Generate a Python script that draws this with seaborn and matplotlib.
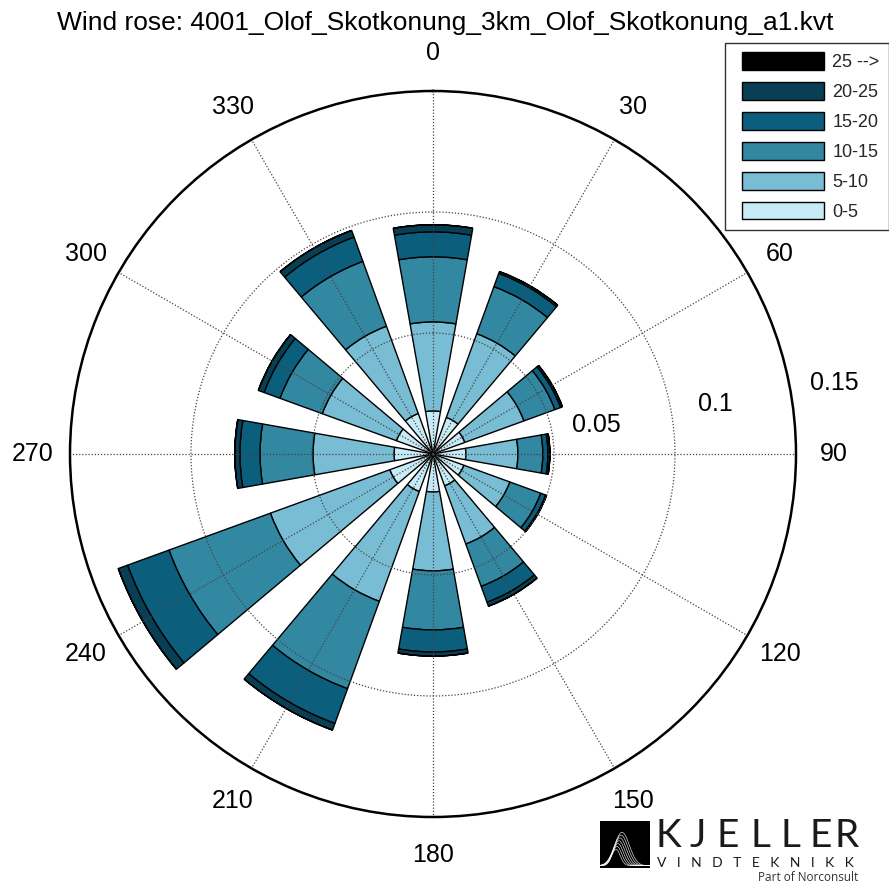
import numpy as np
import pandas as pd
import matplotlib
matplotlib.use("Agg")
import matplotlib.pyplot as plt
import seaborn as sns
from matplotlib.patches import Patch, Rectangle
from matplotlib.legend_handler import HandlerPatch

# Sector centres (degrees from north, clockwise)
directions = [0, 30, 60, 90, 120, 150, 180, 210, 240, 270, 300, 330]

# Frequency of each wind-speed class per sector (fraction of all records)
freq_0_5 = [0.0178, 0.0161, 0.0140, 0.0136, 0.0136, 0.0140, 0.0157, 0.0165, 0.0190, 0.0161, 0.0161, 0.0178]
freq_5_10 = [0.0368, 0.0368, 0.0260, 0.0215, 0.0202, 0.0256, 0.0326, 0.0483, 0.0525, 0.0335, 0.0326, 0.0384]
freq_10_15 = [0.0269, 0.0207, 0.0136, 0.0103, 0.0136, 0.0186, 0.0244, 0.0384, 0.0446, 0.0219, 0.0186, 0.0285]
freq_15_20 = [0.0103, 0.0058, 0.0025, 0.0021, 0.0021, 0.0070, 0.0091, 0.0153, 0.0182, 0.0083, 0.0070, 0.0107]
freq_20_25 = [0.0029, 0.0008, 0.0008, 0.0008, 0.0004, 0.0017, 0.0017, 0.0029, 0.0041, 0.0021, 0.0025, 0.0029]
freq_25_up = [0.0, 0.0, 0.0, 0.0, 0.0, 0.0, 0.0, 0.0, 0.0, 0.0, 0.0, 0.0]

speed_bins = ["0-5", "5-10", "10-15", "15-20", "20-25", "25 -->"]
bin_colors = ["#c6eaf6", "#78bdd4", "#3287a1", "#0b5e7c", "#083f54", "#000000"]

radial_ticks = [0.05, 0.1, 0.15]
radial_labels = ["0.05", "0.1", "0.15"]
angle_labels = ["0", "30", "60", "90", "120", "150", "180", "210", "240", "270", "300", "330"]

title = "Wind rose: 4001_Olof_Skotkonung_3km_Olof_Skotkonung_a1.kvt"

sns.set_theme(style="white")
plt.rcParams["font.family"] = ["Liberation Sans", "DejaVu Sans"]

freq_table = pd.DataFrame(
    {"direction": directions,
     "0-5": freq_0_5, "5-10": freq_5_10, "10-15": freq_10_15,
     "15-20": freq_15_20, "20-25": freq_20_25, "25 -->": freq_25_up}
)
palette = dict(zip(speed_bins, sns.color_palette(bin_colors)))

fig = plt.figure(figsize=(8.89, 8.89), dpi=100)
fig.patch.set_facecolor("white")

cx, cy, rad = 433 / 889, 1 - 454 / 889, 363 / 889
ax = fig.add_axes([cx - rad, cy - rad, 2 * rad, 2 * rad], projection="polar")
ax.set_facecolor("white")
ax.set_theta_zero_location("N")
ax.set_theta_direction(-1)

theta = np.deg2rad(freq_table["direction"].to_numpy())
width = np.deg2rad(20)
bottom = np.zeros(len(theta))
for name in speed_bins:
    vals = freq_table[name].to_numpy()
    ax.bar(theta, vals, width=width, bottom=bottom, color=palette[name],
           edgecolor="black", linewidth=1.0, align="center", zorder=1)
    bottom = bottom + vals

ax.set_ylim(0, 0.15)
ax.set_yticks(radial_ticks[:-1])
ax.set_yticklabels([])
ax.set_xticks(np.deg2rad(directions))
ax.set_xticklabels([])
ax.set_axisbelow(False)
ax.grid(True, color="#444444", linestyle=(0, (1, 1.5)), linewidth=0.9)
ax.spines["polar"].set_color("black")
ax.spines["polar"].set_linewidth(1.8)

for ang, lab in zip(directions, angle_labels):
    ax.text(np.deg2rad(ang), 0.1655, lab, ha="center", va="center",
            fontsize=18, color="black", clip_on=False)

for rv, lab in zip(radial_ticks, radial_labels):
    ax.text(np.deg2rad(80), rv + 0.0185, lab, ha="center", va="center",
            fontsize=18, color="black", clip_on=False)

fig.text(445 / 889, 1 - 23 / 889, title, ha="center", va="center", fontsize=19, color="black")


def inset_box(legend, orig_handle, xdescent, ydescent, width, height, fontsize):
    # colour box with a little white margin on its left
    gap = 0.09 * width
    return Rectangle((-xdescent + gap, -ydescent), width - gap, height)


handles = [Patch(facecolor=palette[n], edgecolor="black", linewidth=1.0) for n in speed_bins][::-1]
leg = fig.legend(handles, speed_bins[::-1], loc="upper right",
                 bbox_to_anchor=(0.9995, 1 - 43 / 889), fontsize=13,
                 handlelength=5.0, handleheight=1.15, labelspacing=0.6,
                 handletextpad=0.45, borderpad=0.5, borderaxespad=0,
                 handler_map={Patch: HandlerPatch(patch_func=inset_box)},
                 fancybox=False, frameon=True)
leg.get_frame().set_edgecolor("black")
leg.get_frame().set_linewidth(1.0)

# Company mark in the lower right corner
logo = fig.add_axes([600 / 889, 1 - 868 / 889, 50 / 889, 47 / 889])
logo.set_facecolor("black")
logo.set_xticks([])
logo.set_yticks([])
for s in logo.spines.values():
    s.set_visible(False)
xs = np.linspace(0, 1, 60)
for k in range(7):
    h = 0.35 + 0.06 * k
    c = 0.32 + 0.02 * k
    logo.plot(xs, 0.05 + h * np.exp(-((xs - c) / (0.12 + 0.015 * k)) ** 2),
              color="white", linewidth=0.4)
logo.set_xlim(0, 1)
logo.set_ylim(0, 1)

# widely tracked company name, one glyph at a time
brand = "KJELLER"
brand_x = [668, 698, 728, 760, 790, 821, 847]
for x, ch in zip(brand_x, brand):
    fig.text(x / 889, 1 - 847 / 889, ch, ha="center", va="baseline",
             fontsize=28, family=["Lato", "DejaVu Sans"], color="#1a1a1a")
fig.text(755 / 889, 1 - 867 / 889, "   ".join("VINDTEKNIKK"), ha="center", va="baseline",
         fontsize=10, family=["Lato", "DejaVu Sans"], color="#1a1a1a")
fig.text(858 / 889, 1 - 881 / 889, "Part of Norconsult", ha="right", va="baseline",
         fontsize=8.5, family=["Open Sans", "DejaVu Sans"], color="#333333")

fig.savefig("out.png", dpi=100, facecolor="white")
